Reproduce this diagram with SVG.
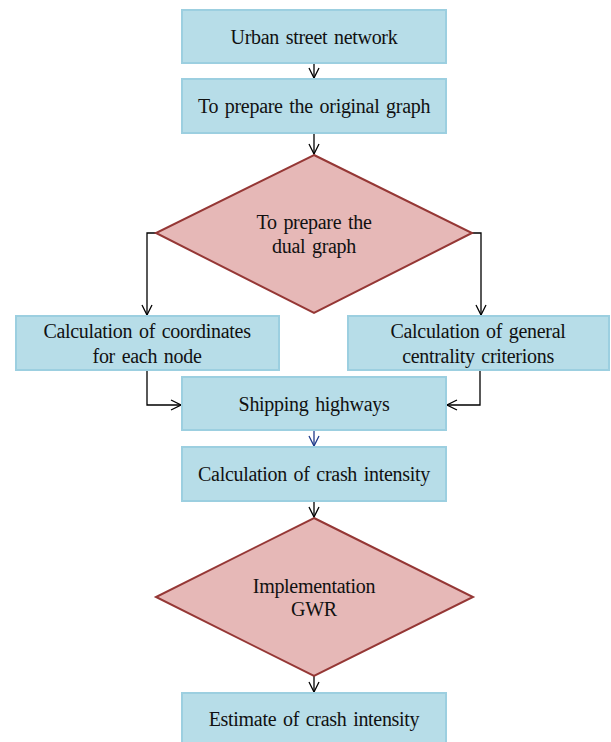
<svg xmlns="http://www.w3.org/2000/svg" width="611" height="742" viewBox="0 0 611 742">
<style>
.box{fill:#b7dde8;stroke:#9ccfe0;stroke-width:2}
.dia{fill:#e6b8b7;stroke:#953735;stroke-width:2}
.t{font-family:"Liberation Serif","Times New Roman",serif;font-size:20px;fill:#111;text-anchor:middle;letter-spacing:-0.3px;word-spacing:2px}
.c{fill:none;stroke:#000;stroke-width:1.3}
</style>
<defs>
<marker id="ah" viewBox="0 0 12 12" refX="11" refY="6" markerWidth="12" markerHeight="12" markerUnits="userSpaceOnUse" orient="auto">
<path d="M1,1 L11,6 L1,11" fill="none" stroke="#000" stroke-width="1.3"/>
</marker>
<marker id="ahb" viewBox="0 0 12 12" refX="11" refY="6" markerWidth="12" markerHeight="12" markerUnits="userSpaceOnUse" orient="auto">
<path d="M1,1 L11,6 L1,11" fill="none" stroke="#1f3a8a" stroke-width="1.3"/>
</marker>
</defs>
<g id="connectors">
<path class="c" d="M314,63 V78" marker-end="url(#ah)"/>
<path class="c" d="M314,133 V154" marker-end="url(#ah)"/>
<path class="c" d="M156,233 H147 V315" marker-end="url(#ah)"/>
<path class="c" d="M472,233 H481 V315" marker-end="url(#ah)"/>
<path class="c" d="M147,370 V405 H181" marker-end="url(#ah)"/>
<path class="c" d="M480,370 V405 H447" marker-end="url(#ah)"/>
<path class="c" d="M314,430 V446" style="stroke:#1f3a8a" marker-end="url(#ahb)"/>
<path class="c" d="M314,501 V517" marker-end="url(#ah)"/>
<path class="c" d="M314,676 V692" marker-end="url(#ah)"/>
</g>
<g id="n1"><rect class="box" x="182" y="10" width="264" height="53"/><text class="t" x="314" y="44">Urban street network</text></g>
<g id="n2"><rect class="box" x="182" y="79" width="264" height="54"/><text class="t" x="314" y="113">To prepare the original graph</text></g>
<g id="n3"><polygon class="dia" points="314,155 472,233 314,313 156,233"/><text class="t" x="314" y="229">To prepare the</text><text class="t" x="314" y="253">dual graph</text></g>
<g id="n4"><rect class="box" x="16" y="316" width="263" height="54"/><text class="t" x="147" y="338">Calculation of coordinates</text><text class="t" x="147" y="363">for each node</text></g>
<g id="n5"><rect class="box" x="348" y="316" width="261" height="54"/><text class="t" x="478" y="338">Calculation of general</text><text class="t" x="478" y="363">centrality criterions</text></g>
<g id="n6"><rect class="box" x="182" y="377" width="264" height="53"/><text class="t" x="314" y="411">Shipping highways</text></g>
<g id="n7"><rect class="box" x="182" y="447" width="264" height="54"/><text class="t" x="314" y="481">Calculation of crash intensity</text></g>
<g id="n8"><polygon class="dia" points="314,518 473,597 314,676 156,597"/><text class="t" x="314" y="593">Implementation</text><text class="t" x="314" y="616">GWR</text></g>
<g id="n9"><rect class="box" x="182" y="693" width="264" height="54"/><text class="t" x="314" y="726">Estimate of crash intensity</text></g>
</svg>
